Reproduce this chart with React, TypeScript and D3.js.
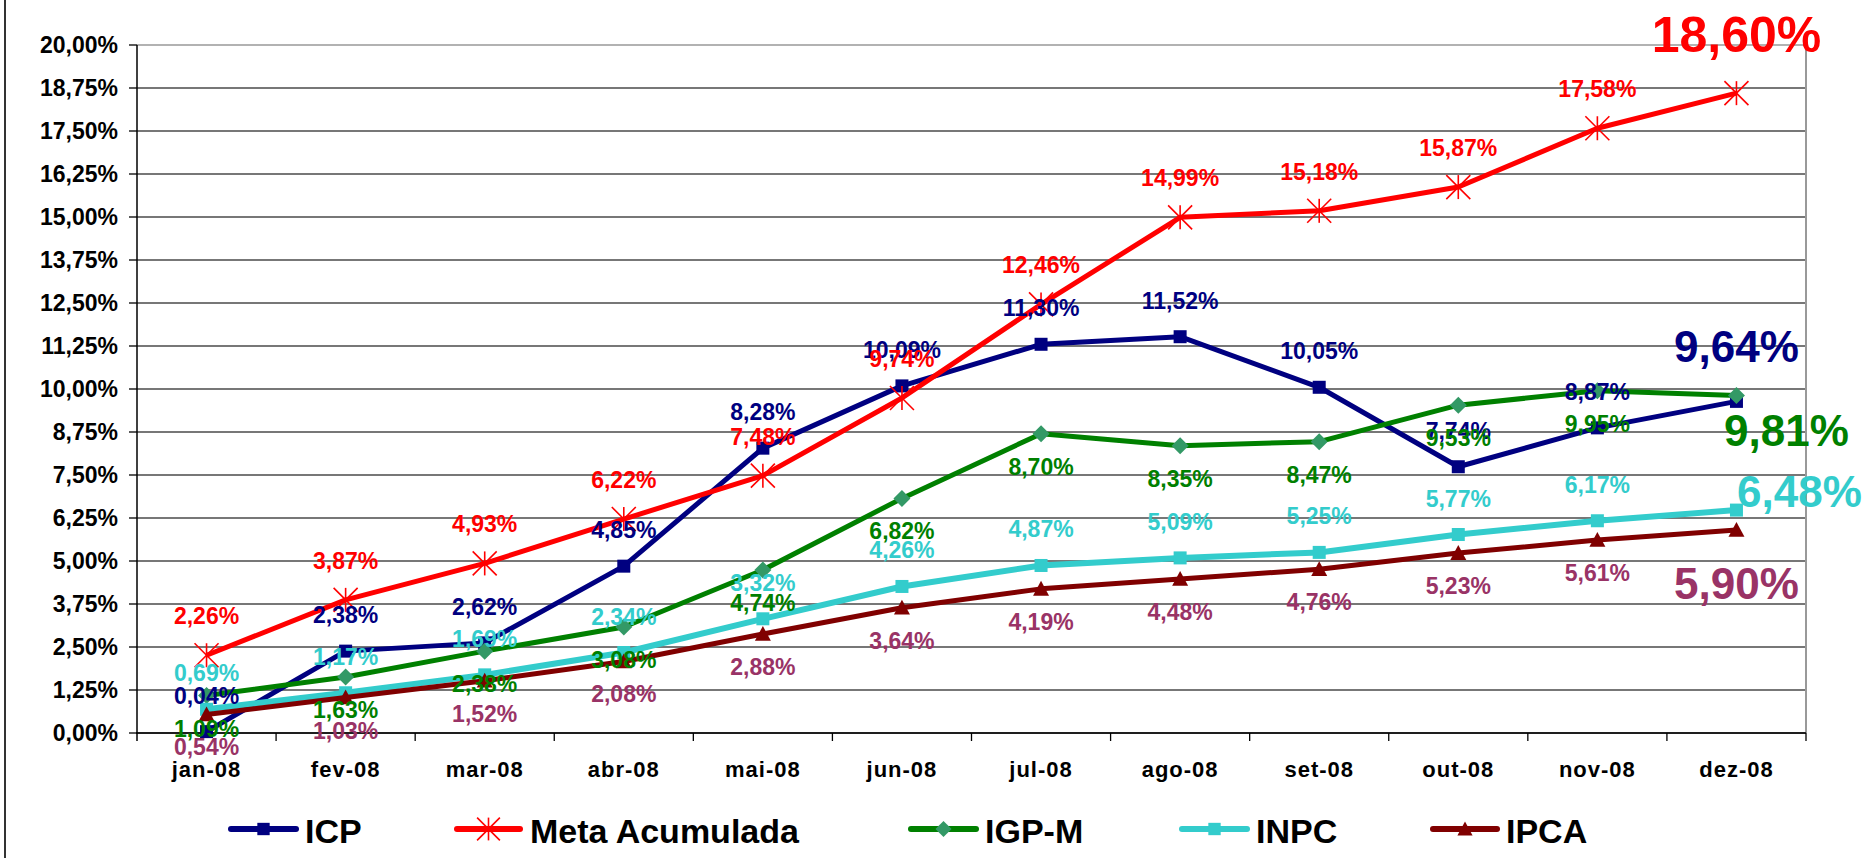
import React from "react";
import * as d3 from "d3";

const categories = ["jan-08", "fev-08", "mar-08", "abr-08", "mai-08", "jun-08", "jul-08", "ago-08", "set-08", "out-08", "nov-08", "dez-08"];
const icp = [0.04, 2.38, 2.62, 4.85, 8.28, 10.09, 11.3, 11.52, 10.05, 7.74, 8.87, 9.64];
const metaAcumulada = [2.26, 3.87, 4.93, 6.22, 7.48, 9.74, 12.46, 14.99, 15.18, 15.87, 17.58, 18.6];
const igpm = [1.09, 1.63, 2.38, 3.08, 4.74, 6.82, 8.7, 8.35, 8.47, 9.53, 9.95, 9.81];
const inpc = [0.69, 1.17, 1.69, 2.34, 3.32, 4.26, 4.87, 5.09, 5.25, 5.77, 6.17, 6.48];
const ipca = [0.54, 1.03, 1.52, 2.08, 2.88, 3.64, 4.19, 4.48, 4.76, 5.23, 5.61, 5.9];
const yTicks = [0, 1.25, 2.5, 3.75, 5, 6.25, 7.5, 8.75, 10, 11.25, 12.5, 13.75, 15, 16.25, 17.5, 18.75, 20];
const seriesNames = ["ICP", "Meta Acumulada", "IGP-M", "INPC", "IPCA"];

const W = 1876;
const H = 858;
const FONT = "'Liberation Sans', Arial, Helvetica, sans-serif";
const plot = { left: 137, right: 1806, top: 45, bottom: 733 };

type Marker = "square" | "star" | "diamond" | "triangle";
interface SeriesStyle {
  name: string;
  values: number[];
  line: string;
  lineWidth: number;
  marker: Marker;
  markerColor: string;
  labelColor: string;
  labelDy: number;
  big: { dx: number; dy: number; size: number };
}

const series: SeriesStyle[] = [
  { name: seriesNames[0], values: icp, line: "#000080", lineWidth: 5, marker: "square", markerColor: "#000080", labelColor: "#000080", labelDy: -28, big: { dx: 0, dy: -39, size: 44 } },
  { name: seriesNames[1], values: metaAcumulada, line: "#FF0000", lineWidth: 5, marker: "star", markerColor: "#FF0000", labelColor: "#FF0000", labelDy: -31, big: { dx: 0, dy: -41, size: 50 } },
  { name: seriesNames[2], values: igpm, line: "#008000", lineWidth: 5, marker: "diamond", markerColor: "#339966", labelColor: "#008000", labelDy: 41, big: { dx: 50, dy: 50, size: 44 } },
  { name: seriesNames[3], values: inpc, line: "#33CCCC", lineWidth: 6, marker: "square", markerColor: "#33CCCC", labelColor: "#33CCCC", labelDy: -28, big: { dx: 63, dy: -3, size: 44 } },
  { name: seriesNames[4], values: ipca, line: "#800000", lineWidth: 5, marker: "triangle", markerColor: "#800000", labelColor: "#993366", labelDy: 41, big: { dx: 0, dy: 69, size: 44 } },
];

const legendPos = [
  { x1: 231, x2: 296, tx: 305 },
  { x1: 457, x2: 520, tx: 530 },
  { x1: 911, x2: 976, tx: 985 },
  { x1: 1182, x2: 1247, tx: 1256 },
  { x1: 1433, x2: 1497, tx: 1506 },
];

const fmt = (v: number) => v.toFixed(2).replace(".", ",") + "%";

function MarkerShape({ type, color, x, y, scale = 1 }: { type: Marker; color: string; x: number; y: number; scale?: number }) {
  if (type === "square") {
    const s = 13 * scale;
    return <rect x={x - s / 2} y={y - s / 2} width={s} height={s} fill={color} />;
  }
  if (type === "diamond") {
    const s = 8.5 * scale;
    return <path d={`M${x},${y - s}L${x + s},${y}L${x},${y + s}L${x - s},${y}Z`} fill={color} />;
  }
  if (type === "triangle") {
    const s = 8 * scale;
    return <path d={`M${x},${y - s}L${x + s},${y + s * 0.85}L${x - s},${y + s * 0.85}Z`} fill={color} />;
  }
  const s = 12 * scale;
  return (
    <g stroke={color} strokeWidth={1.6}>
      <line x1={x - s} y1={y - s} x2={x + s} y2={y + s} />
      <line x1={x - s} y1={y + s} x2={x + s} y2={y - s} />
      <line x1={x} y1={y - s} x2={x} y2={y + s} />
    </g>
  );
}

export default function App() {
  const x = d3.scaleBand<string>().domain(categories).range([plot.left, plot.right]);
  const y = d3.scaleLinear().domain([0, 20]).range([plot.bottom, plot.top]);
  const cx = (c: string) => (x(c) as number) + x.bandwidth() / 2;
  const line = d3
    .line<number>()
    .x((_, i) => cx(categories[i]))
    .y((v) => y(v));
  const last = categories.length - 1;

  return (
    <svg width={W} height={H} style={{ position: "absolute", left: 0, top: 0, background: "#fff" }} fontFamily={FONT}>
      <rect x={0} y={0} width={W} height={H} fill="#fff" />
      <line x1={5} y1={0} x2={5} y2={H} stroke="#333" strokeWidth={2} />
      {yTicks.map((t) => (
        <line key={"g" + t} x1={plot.left} x2={plot.right} y1={y(t)} y2={y(t)} stroke={t === 20 ? "#999" : "#4a4a4a"} strokeWidth={1.3} />
      ))}
      <line x1={plot.right} x2={plot.right} y1={plot.top} y2={plot.bottom} stroke="#999" strokeWidth={2} />
      <line x1={plot.left} x2={plot.left} y1={plot.top} y2={plot.bottom + 8} stroke="#000" strokeWidth={1.5} />
      <line x1={plot.left - 1} x2={plot.right} y1={plot.bottom} y2={plot.bottom} stroke="#000" strokeWidth={1.5} />
      {yTicks.map((t) => (
        <g key={"yt" + t}>
          <line x1={plot.left - 8} x2={plot.left} y1={y(t)} y2={y(t)} stroke="#000" strokeWidth={1.3} />
          <text x={118} y={y(t) + 8} textAnchor="end" fontSize={23} fontWeight="bold" fill="#000">
            {fmt(t)}
          </text>
        </g>
      ))}
      {categories.map((c) => (
        <g key={"xt" + c}>
          <line x1={(x(c) as number) + x.bandwidth()} x2={(x(c) as number) + x.bandwidth()} y1={plot.bottom} y2={plot.bottom + 8} stroke="#000" strokeWidth={1.3} />
          <text x={cx(c)} y={777} textAnchor="middle" fontSize={22} fontWeight="bold" letterSpacing={1} fill="#000">
            {c}
          </text>
        </g>
      ))}
      {series.map((s) => (
        <g key={"s" + s.name}>
          <path d={line(s.values) as string} fill="none" stroke={s.line} strokeWidth={s.lineWidth} strokeLinejoin="round" />
          {s.values.map((v, i) => (
            <MarkerShape key={i} type={s.marker} color={s.markerColor} x={cx(categories[i])} y={y(v)} />
          ))}
        </g>
      ))}
      {series.map((s) => (
        <g key={"l" + s.name} fontWeight="bold">
          {s.values.map((v, i) =>
            i === last ? (
              <text key={i} x={cx(categories[i]) + s.big.dx} y={y(v) + s.big.dy} textAnchor="middle" fontSize={s.big.size} fill={s.labelColor}>
                {fmt(v)}
              </text>
            ) : (
              <text key={i} x={cx(categories[i])} y={y(v) + s.labelDy} textAnchor="middle" fontSize={23} fill={s.labelColor}>
                {fmt(v)}
              </text>
            )
          )}
        </g>
      ))}
      {series.map((s, i) => {
        const p = legendPos[i];
        return (
          <g key={"lg" + s.name}>
            <line x1={p.x1} x2={p.x2} y1={829} y2={829} stroke={s.line} strokeWidth={6} strokeLinecap="round" />
            <MarkerShape type={s.marker} color={s.markerColor} x={(p.x1 + p.x2) / 2} y={829} scale={0.95} />
            <text x={p.tx} y={843} fontSize={34} fontWeight="bold" fill="#000">
              {s.name}
            </text>
          </g>
        );
      })}
    </svg>
  );
}
